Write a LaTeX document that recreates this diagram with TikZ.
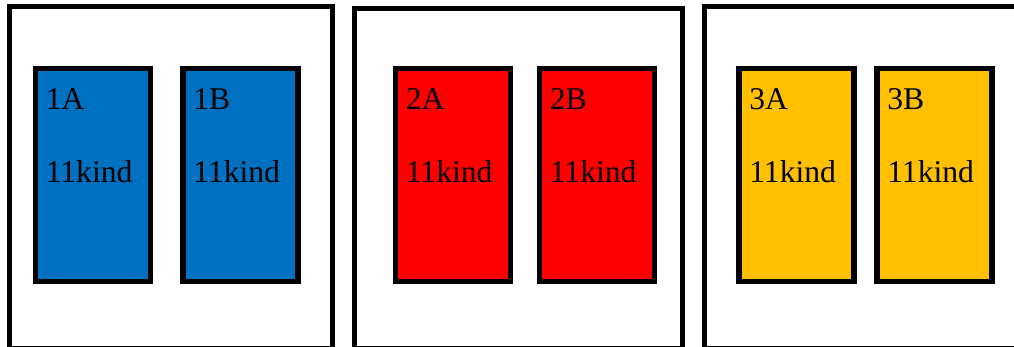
\documentclass[tikz,border=0pt]{standalone}
\usepackage{fontspec}
\setmainfont{Liberation Serif}
\usetikzlibrary{positioning, calc}
\definecolor{grpblue}{HTML}{0070C0}
\definecolor{grpred}{HTML}{FF0000}
\definecolor{grpgold}{HTML}{FFC000}
\newcommand{\px}{0.025cm}
\tikzset{
  panel/.style = {draw, rectangle, line width=3.6pt, fill=white, inner sep=0pt, outer sep=0pt},
  cell/.style  = {draw, rectangle, line width=3.6pt, inner sep=0pt, outer sep=0pt,
                  minimum width=115*\px, minimum height=213*\px},
  tag/.style   = {anchor=base west, inner sep=0pt, font=\fontsize{22.5}{26}\selectfont},
}
\begin{document}
\begin{tikzpicture}[x=\px, y=-\px]
  \useasboundingbox (0,0) rectangle (1014,347);

  % outer panels, open past the bottom edge
  \node[panel, minimum width=323*\px,   minimum height=342.5*\px] at (171,   177.75) (panel1) {};
  \node[panel, minimum width=328*\px,   minimum height=340.5*\px] at (518.5, 178.75) (panel2) {};
  \node[panel, minimum width=325.5*\px, minimum height=342.5*\px] at (867.25,177.75) (panel3) {};

  \node[cell, fill=grpblue] at ( 93,   175) (c1A) {};
  \node[cell, fill=grpblue] at (240.5, 175) (c1B) {};
  \node[cell, fill=grpred]  at (453,   175) (c2A) {};
  \node[cell, fill=grpred]  at (597,   175) (c2B) {};
  \node[cell, fill=grpgold] at (796.5, 175) (c3A) {};
  \node[cell, fill=grpgold] at (934.5, 175) (c3B) {};

  \node[tag] at ($(c1A.north west)+(10,41)$)    (n1A) {1A};
  \node[tag] at ($(c1A.north west)+(10,114.5)$) (k1A) {11kind};
  \node[tag] at ($(c1B.north west)+(10,41)$)    (n1B) {1B};
  \node[tag] at ($(c1B.north west)+(10,114.5)$) (k1B) {11kind};
  \node[tag] at ($(c2A.north west)+(10,41)$)    (n2A) {2A};
  \node[tag] at ($(c2A.north west)+(10,114.5)$) (k2A) {11kind};
  \node[tag] at ($(c2B.north west)+(10,41)$)    (n2B) {2B};
  \node[tag] at ($(c2B.north west)+(10,114.5)$) (k2B) {11kind};
  \node[tag] at ($(c3A.north west)+(10,41)$)    (n3A) {3A};
  \node[tag] at ($(c3A.north west)+(10,114.5)$) (k3A) {11kind};
  \node[tag] at ($(c3B.north west)+(10,41)$)    (n3B) {3B};
  \node[tag] at ($(c3B.north west)+(10,114.5)$) (k3B) {11kind};
\end{tikzpicture}
\end{document}
